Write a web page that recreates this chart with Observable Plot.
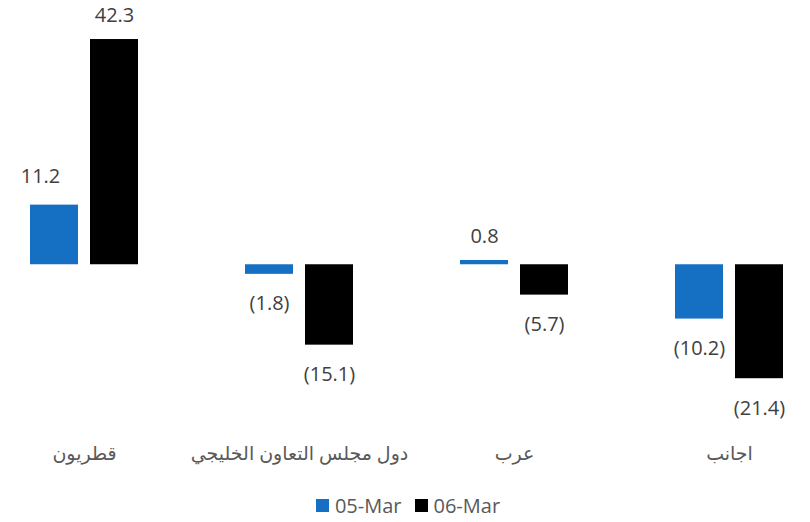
<!DOCTYPE html>
<html>
<head>
<meta charset="utf-8">
<script src="https://cdn.jsdelivr.net/npm/d3@7"></script>
<script src="https://cdn.jsdelivr.net/npm/@observablehq/plot@0.6"></script>
<style>
  body { margin: 0; background: #fff; font-family: "Open Sans", "DejaVu Sans", sans-serif; }
  #chart { width: 810px; }
  .legend { display: flex; justify-content: center; gap: 13px; font-size: 20px; line-height: 27px; color: #595959; margin-top: 12px; margin-left: 6px; }
  .legend span { display: inline-flex; align-items: center; }
  .legend i { display: inline-block; width: 13px; height: 13px; margin-right: 6px; }
</style>
</head>
<body>
<div id="chart"></div>
<script>
const categories = ["قطريون", "دول مجلس التعاون الخليجي", "عرب", "اجانب"];
const seriesNames = ["05-Mar", "06-Mar"];
const mar05 = [11.2, -1.8, 0.8, -10.2];
const mar06 = [42.3, -15.1, -5.7, -21.4];
const colors = ["#1570C4", "#000000"];

const data = [];
categories.forEach((c, i) => {
  data.push({category: c, series: seriesNames[0], value: mar05[i], idx: i});
  data.push({category: c, series: seriesNames[1], value: mar06[i], idx: i});
});
const fmt = v => v < 0 ? `(${Math.abs(v).toFixed(1)})` : v.toFixed(1);
const isShifted = d => d.idx === 0 && d.series === seriesNames[0];

const labelStyle = {fx: "category", x: "series", y: "value", text: d => fmt(d.value), fontSize: 20, fill: "#404040"};

const plot = Plot.plot({
  width: 810,
  height: 480,
  marginLeft: 2,
  marginRight: 0,
  marginTop: 14,
  marginBottom: 56,
  style: {fontFamily: "'Open Sans', 'DejaVu Sans', sans-serif"},
  fx: {domain: categories, paddingInner: 0.5, paddingOuter: 0.125, label: null},
  x: {domain: seriesNames, paddingInner: 0.2, paddingOuter: 0, axis: null},
  y: {domain: [-30, 47], axis: null},
  color: {domain: seriesNames, range: colors},
  marks: [
    Plot.barY(data, {fx: "category", x: "series", y: "value", fill: "series"}),
    Plot.text(data.filter(d => d.value >= 0 && !isShifted(d)), {...labelStyle, dy: -24}),
    Plot.text(data.filter(d => isShifted(d)), {...labelStyle, dy: -29, dx: -14}),
    Plot.text(data.filter(d => d.value < 0), {...labelStyle, dy: 29.5}),
    Plot.axisFx({anchor: "bottom", tickSize: 0, tickPadding: 22, fontSize: 19, color: "#595959", label: null})
  ]
});
document.getElementById("chart").appendChild(plot);

const legend = document.createElement("div");
legend.className = "legend";
seriesNames.forEach((s, i) => {
  const sp = document.createElement("span");
  sp.innerHTML = `<i style="background:${colors[i]}"></i>${s}`;
  legend.appendChild(sp);
});
document.getElementById("chart").appendChild(legend);
</script>
</body>
</html>
